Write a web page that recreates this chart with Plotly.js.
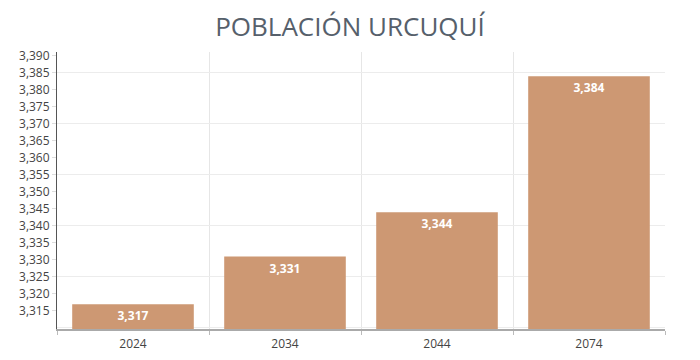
<!DOCTYPE html>
<html><head><meta charset="utf-8">
<script src="https://cdn.plot.ly/plotly-3.0.1.min.js"></script>
<style>html,body{margin:0;padding:0;background:#fff}#c{width:700px;height:360px}</style>
</head><body><div id="c"></div>
<script>
const years = ["2024", "2034", "2044", "2074"];
const population = [3317, 3331, 3344, 3384];
const yTickValues = [3315, 3320, 3325, 3330, 3335, 3340, 3345, 3350, 3355, 3360, 3365, 3370, 3375, 3380, 3385, 3390];
const chartTitle = "POBLACIÓN URCUQUÍ";

const yRange = [3309.7, 3391.1];
const traces = [
  {
    type: "bar", x: years, y: population,
    marker: {color: "#CD9873"},
    text: population.map(v => v.toLocaleString("en-US")),
    textposition: "inside", insidetextanchor: "end",
    textfont: {family: "Open Sans", size: 12, color: "#ffffff", weight: "bold"},
    hoverinfo: "none"
  },
  {type: "scatter", x: years, y: population, yaxis: "y2", mode: "none", showlegend: false, hoverinfo: "none"}
];
const layout = {
  width: 700, height: 360,
  margin: {l: 57, r: 35, t: 52, b: 31},
  paper_bgcolor: "#fff", plot_bgcolor: "#fff",
  showlegend: false, bargap: 0.2,
  font: {family: "Open Sans", size: 12, color: "#444"},
  title: {text: chartTitle, x: 0.5, xanchor: "center", y: 0.925, yanchor: "middle",
          font: {family: "Open Sans", size: 26, color: "#56606b"}},
  xaxis: {type: "category", tickson: "boundaries", showgrid: true, gridcolor: "#e6e6e6",
          ticks: "outside", ticklen: 4, tickcolor: "#bbb", ticklabelstandoff: 3,
          showline: true, linecolor: "#aaa", linewidth: 2, zeroline: false,
          tickfont: {size: 12, color: "#444"}},
  yaxis: {range: yRange, tickmode: "array", tickvals: yTickValues,
          ticktext: yTickValues.map(v => v.toLocaleString("en-US")), showgrid: false,
          ticks: "outside", ticklen: 4, tickcolor: "#ddd",
          showline: true, linecolor: "#555", linewidth: 1, zeroline: false,
          tickfont: {size: 12, color: "#444"}},
  yaxis2: {range: yRange, overlaying: "y", side: "left", tick0: 3325, dtick: 15,
           showticklabels: false, showgrid: true, gridcolor: "#ececec", ticks: "", zeroline: false, showline: false}
};
Plotly.newPlot("c", traces, layout, {staticPlot: true});
</script></body></html>
